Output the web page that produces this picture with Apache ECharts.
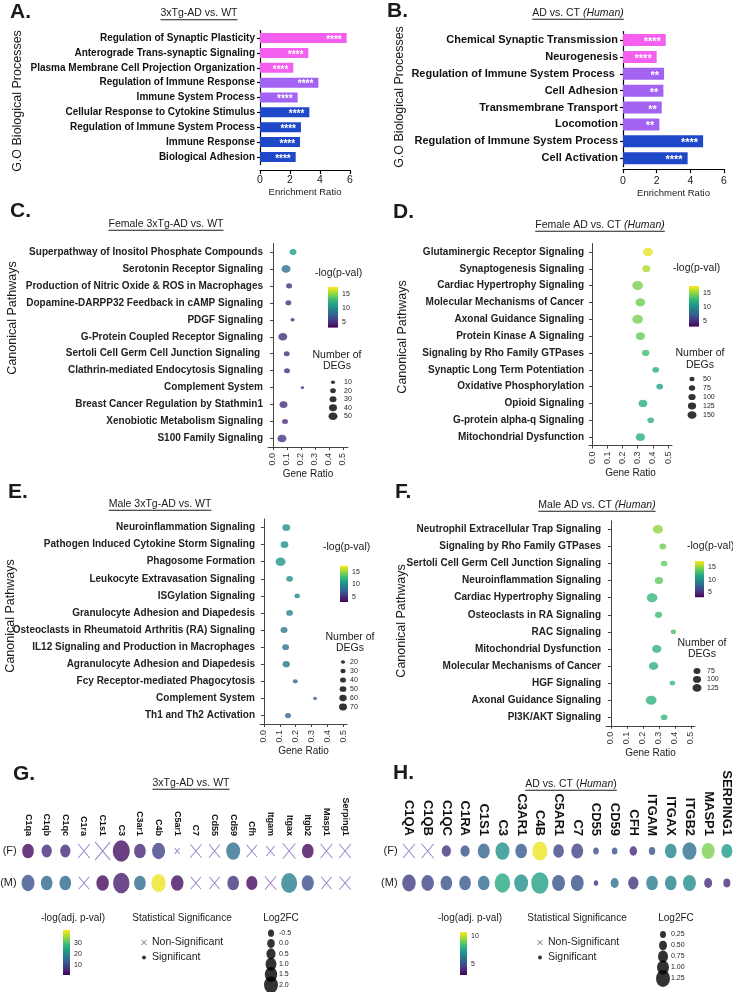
<!DOCTYPE html>
<html><head><meta charset="utf-8">
<script src="https://cdn.jsdelivr.net/npm/echarts@6/dist/echarts.min.js"></script>
<style>html,body{margin:0;padding:0;background:#fff}#c{width:733px;height:992px}</style>
</head><body><div id="c"></div>
<script>
// ================= DATA =================
const catA = ['Regulation of Synaptic Plasticity','Anterograde Trans-synaptic Signaling','Plasma Membrane Cell Projection Organization','Regulation of Immune Response','Immune System Process','Cellular Response to Cytokine Stimulus','Regulation of Immune System Process','Immune Response','Biological Adhesion'];
const ratioA = [5.78, 3.22, 2.22, 3.89, 2.51, 3.29, 2.73, 2.67, 2.38];
const starsA = ['****','****','****','****','****','****','****','****','****'];
const groupA = [0,0,0,1,1,2,2,2,2];

const catB = ['Chemical Synaptic Transmission','Neurogenesis','Regulation of Immune System Process ','Cell Adhesion','Transmembrane Transport','Locomotion','Regulation of Immune System Process','Cell Activation'];
const ratioB = [2.54, 2.0, 2.44, 2.4, 2.3, 2.16, 4.76, 3.84];
const starsB = ['****','****','**','**','**','**','****','****'];
const groupB = [0,0,1,1,1,1,2,2];

const catC = ['Superpathway of Inositol Phosphate Compounds','Serotonin Receptor Signaling','Production of Nitric Oxide & ROS in Macrophages','Dopamine-DARPP32 Feedback in cAMP Signaling','PDGF Signaling','G-Protein Coupled Receptor Signaling','Sertoli Cell Germ Cell Junction Signaling ','Clathrin-mediated Endocytosis Signaling','Complement System','Breast Cancer Regulation by Stathmin1','Xenobiotic Metabolism Signaling','S100 Family Signaling'];
const ratioC = [0.143, 0.093, 0.115, 0.11, 0.14, 0.07, 0.098, 0.1, 0.21, 0.075, 0.086, 0.064];
const pvalC = [11, 8.5, 5, 5, 4.8, 5, 5, 4.8, 4.5, 5, 4.8, 5.2];
const degsC = [30, 50, 22, 22, 11, 50, 22, 22, 7, 40, 22, 50];
const legendC = [10, 20, 30, 40, 50];

const catD = ['Glutaminergic Receptor Signaling','Synaptogenesis Signaling','Cardiac Hypertrophy Signaling','Molecular Mechanisms of Cancer','Axonal Guidance Signaling','Protein Kinase A Signaling','Signaling by Rho Family GTPases','Synaptic Long Term Potentiation','Oxidative Phosphorylation','Opioid Signaling','G-protein alpha-q Signaling','Mitochondrial Dysfunction'];
const ratioD = [0.368, 0.357, 0.30, 0.318, 0.30, 0.318, 0.353, 0.419, 0.445, 0.335, 0.386, 0.318];
const pvalD = [17, 15.7, 14.5, 14.3, 14.5, 14, 13, 11.8, 11.3, 12, 12.2, 12];
const degsD = [185, 118, 212, 174, 212, 160, 99, 83, 83, 140, 83, 160];
const legendD = [50, 75, 100, 125, 150];

const catE = ['Neuroinflammation Signaling','Pathogen Induced Cytokine Storm Signaling','Phagosome Formation','Leukocyte Extravasation Signaling','ISGylation Signaling','Granulocyte Adhesion and Diapedesis','Osteoclasts in Rheumatoid Arthritis (RA) Signaling','IL12 Signaling and Production in Macrophages','Agranulocyte Adhesion and Diapedesis','Fcy Receptor-mediated Phagocytosis','Complement System','Th1 and Th2 Activation'];
const ratioE = [0.141, 0.13, 0.105, 0.162, 0.21, 0.162, 0.127, 0.137, 0.141, 0.198, 0.323, 0.152];
const pvalE = [10.3, 10.5, 10.6, 10.3, 9.8, 9.5, 8.8, 8.3, 8.4, 7.8, 7, 7.5];
const degsE = [70, 65, 109, 49, 31, 49, 54, 49, 59, 27, 17, 39];
const legendE = [20, 30, 40, 50, 60, 70];

const catF = ['Neutrophil Extracellular Trap Signaling','Signaling by Rho Family GTPases','Sertoli Cell Germ Cell Junction Signaling','Neuroinflammation Signaling','Cardiac Hypertrophy Signaling','Osteoclasts in RA Signaling','RAC Signaling','Mitochondrial Dysfunction','Molecular Mechanisms of Cancer','HGF Signaling','Axonal Guidance Signaling','PI3K/AKT Signaling'];
const ratioF = [0.293, 0.324, 0.332, 0.30, 0.257, 0.297, 0.39, 0.286, 0.266, 0.384, 0.251, 0.332];
const pvalF = [15, 14.2, 14, 13.8, 12.7, 13, 13.3, 12.4, 12.2, 12.6, 12.2, 12.6];
const degsF = [154, 69, 69, 107, 176, 83, 44, 134, 134, 50, 176, 69];
const legendF = [75, 100, 125];

const ratioTicks = [0, 0.1, 0.2, 0.3, 0.4, 0.5];
const pvalTicks = [5, 10, 15];
const rowsGH = ['(F)', '(M)'];

const genesG = ['C1qa','C1qb','C1qc','C1ra','C1s1','C3','C3ar1','C4b','C5ar1','C7','Cd55','Cd59','Cfh','Itgam','Itgax','Itgb2','Masp1','Serping1'];
const gF_lfc = [1.28, 0.84, 0.84, 1.28, 2.31, 2.94, 1.28, 1.69, -0.9, 1.06, 1.06, 2.0, 0.84, 0.25, 1.56, 1.28, 1.28, 1.28];
const gF_p   = [2.2, 6, 6, 0.5, 0.5, 2.6, 5.5, 9.2, 0.5, 0.5, 0.5, 16, 0.5, 0.5, 0.5, 2.2, 0.5, 0.5];
const gF_sig = [1,1,1,0,0,1,1,1,0,0,0,1,0,0,0,1,0,0];
const gM_lfc = [1.69, 1.28, 1.28, 0.84, 1.56, 2.75, 1.28, 2.16, 1.56, 0.84, 0.84, 1.28, 1.13, 1.13, 2.63, 1.44, 0.84, 1.13];
const gM_p   = [11.3, 14.7, 14.7, 0.5, 2.2, 4.3, 15.4, 41.2, 2.6, 0.5, 0.5, 7.2, 2.0, 0.5, 18.6, 11.3, 0.5, 0.5];
const gM_sig = [1,1,1,0,1,1,1,1,1,0,0,1,1,0,1,1,0,0];
const lfcLegendG = [-0.5, 0.0, 0.5, 1.0, 1.5, 2.0];
const lfcLegendGLabels = ['-0.5','0.0','0.5','1.0','1.5','2.0'];
const pTicksG = [10, 20, 30];

const genesH = ['C1QA','C1QB','C1QC','C1RA','C1S1','C3','C3AR1','C4B','C5AR1','C7','CD55','CD59','CFH','ITGAM','ITGAX','ITGB2','MASP1','SERPING1'];
const hF_lfc = [1.0, 1.0, 0.66, 0.66, 1.0, 1.25, 0.96, 1.38, 0.84, 1.0, 0.2, 0.2, 0.44, 0.31, 0.96, 1.25, 1.12, 0.88];
const hF_p   = [3, 3, 4.1, 4.9, 5.4, 6.85, 5.1, 10.6, 4.5, 4.5, 4.9, 4.9, 3.85, 4.9, 6.5, 5.8, 9.2, 7.2];
const hF_sig = [0,0,1,1,1,1,1,1,1,1,1,1,1,1,1,1,1,1];
const hM_lfc = [1.19, 1.08, 0.96, 0.96, 0.96, 1.43, 1.25, 1.66, 1.12, 1.12, 0.05, 0.5, 0.79, 0.96, 0.96, 1.12, 0.5, 0.38];
const hM_p   = [4.4, 4.5, 4.9, 5.1, 5.7, 7.6, 6.85, 7.4, 4.9, 4.9, 3.8, 5.8, 4.1, 6.2, 6.4, 6.8, 3.9, 3.9];
const hM_sig = [1,1,1,1,1,1,1,1,1,1,1,1,1,1,1,1,1,1];
const lfcLegendH = [0.25, 0.5, 0.75, 1.0, 1.25];
const lfcLegendHLabels = ['0.25','0.50','0.75','1.00','1.25'];
const pTicksH = [5, 10];
const sigLabels = ['Non-Significant', 'Significant'];

// ================= STYLE / HELPERS =================
const SANS = '"Liberation Sans", Arial, Helvetica, sans-serif';
const VIRIDIS = ['#440154','#482878','#3e4989','#31688e','#26828e','#1f9e89','#35b779','#6ece58','#b5de2b','#fde725'];
const BAR_COLORS = ['#f55ff0', '#a262f2', '#1f48c9'];
const XPATH = 'path://M0,0L10,10M10,0L0,10';
const TXT = '#1a1a1a';

const chart = echarts.init(document.getElementById('c'), null, {renderer: 'canvas', width: 733, height: 992});
const grid = [], xAxis = [], yAxis = [], series = [], graphic = [];

function addGrid(g, x, y) {
  grid.push(Object.assign({containLabel: false, outerBoundsMode: 'none'}, g));
  const i = grid.length - 1;
  xAxis.push(Object.assign({gridIndex: i}, x));
  yAxis.push(Object.assign({gridIndex: i}, y));
  return i;
}
const mctx = document.createElement('canvas').getContext('2d');
function tw(text, font) { mctx.font = font; return mctx.measureText(text).width; }

function addText(text, x, y, o) {
  o = o || {};
  graphic.push({type: 'text', x: x, y: y, rotation: o.rot || 0, silent: true,
    style: {text: text, fontSize: o.size || 11, fontFamily: SANS, fontWeight: o.weight || 'normal',
      fontStyle: o.style || 'normal', fill: o.color || TXT, align: o.align || 'left', verticalAlign: 'middle'}});
}
function addTitle(cx, cy, parts, size) {
  const fonts = parts.map(p => (p[1] ? 'italic ' : '') + size + 'px ' + SANS);
  const widths = parts.map((p, i) => tw(p[0], fonts[i]));
  const total = widths.reduce((a, b) => a + b, 0);
  let x = cx - total / 2;
  parts.forEach((p, i) => {
    addText(p[0], x, cy, {size: size, style: p[1] ? 'italic' : 'normal'});
    x += widths[i];
  });
  graphic.push({type: 'rect', x: cx - total / 2, y: cy + size * 0.55, silent: true,
    shape: {x: 0, y: 0, width: total, height: 0.9}, style: {fill: TXT}});
}

function barPanel(g, cats, vals, stars, groups, barW, labelSize, starSize, xOffset, labelMargin, nameGap) {
  const gi = addGrid(g,
    {type: 'value', min: 0, max: 6, interval: 2, offset: xOffset,
      axisLine: {show: true, onZero: false, lineStyle: {color: '#000', width: 1.2}},
      axisTick: {show: true, length: 4, lineStyle: {color: '#000', width: 1.2}},
      axisLabel: {fontSize: 10.5, color: TXT, margin: labelMargin, fontFamily: SANS},
      splitLine: {show: false},
      name: 'Enrichment Ratio', nameLocation: 'middle', nameGap: nameGap,
      nameTextStyle: {fontSize: 9.5, color: TXT, fontFamily: SANS}},
    {type: 'category', inverse: true, data: cats,
      axisLine: {show: true, lineStyle: {color: '#000', width: 1.2}},
      axisTick: {show: true, length: 3, alignWithLabel: true, lineStyle: {color: '#000', width: 1.2}},
      axisLabel: {fontSize: labelSize, fontWeight: 'bold', color: '#111', margin: 5, fontFamily: SANS, interval: 0}});
  series.push({type: 'bar', xAxisIndex: gi, yAxisIndex: gi, barWidth: barW, silent: true,
    data: vals,
    itemStyle: {color: p => BAR_COLORS[groups[p.dataIndex]]},
    label: {show: true, position: 'insideRight', distance: 5, color: '#fff', fontWeight: 'bold',
      fontSize: starSize, fontFamily: SANS, offset: [0, 2], formatter: p => stars[p.dataIndex]}});
}

function sizeFnFactory(k) { return n => k * Math.sqrt(n); }
const scatterSeriesIdx = [];
function dotPanel(g, cats, ratios, pvals, degs, sizeFn, xmin, xmax, nameGap) {
  const gi = addGrid(g,
    {type: 'value', min: xmin, max: xmax,
      axisLine: {show: true, onZero: false, lineStyle: {color: '#444', width: 1}},
      axisTick: {show: true, length: 3, customValues: ratioTicks, lineStyle: {color: '#444'}},
      axisLabel: {customValues: ratioTicks, rotate: 90, fontSize: 9, color: '#333', margin: 6, fontFamily: SANS,
        formatter: v => Number(v).toFixed(1)},
      splitLine: {show: false},
      name: 'Gene Ratio', nameLocation: 'middle', nameGap: nameGap,
      nameTextStyle: {fontSize: 10, color: TXT, fontFamily: SANS}},
    {type: 'category', inverse: true, data: cats,
      axisLine: {show: true, lineStyle: {color: '#444', width: 1}},
      axisTick: {show: true, length: 3, alignWithLabel: true, lineStyle: {color: '#444'}},
      axisLabel: {fontSize: 10, fontWeight: 'bold', color: '#222', margin: 5, fontFamily: SANS, interval: 0}});
  series.push({type: 'scatter', xAxisIndex: gi, yAxisIndex: gi, silent: true,
    data: cats.map((c, i) => [ratios[i], i, pvals[i], degs[i]]),
    symbolSize: v => { const w = sizeFn(v[3]); return [w, w * 0.85]; }});
  scatterSeriesIdx.push(series.length - 1);
}

function colorbar(g, min, max, ticks, labelSize) {
  const gi = addGrid(g,
    {type: 'value', min: 0, max: 1, show: false},
    {type: 'value', min: min, max: max, position: 'right',
      axisLine: {show: false}, axisTick: {show: false}, splitLine: {show: false},
      axisLabel: {customValues: ticks, fontSize: labelSize, color: '#222', margin: 4, fontFamily: SANS}});
  const stops = VIRIDIS.map((c, i) => ({offset: i / (VIRIDIS.length - 1), color: c}));
  series.push({type: 'custom', xAxisIndex: gi, yAxisIndex: gi, silent: true, data: [[0, min]],
    renderItem: (params, api) => {
      const a = api.coord([0, max]), b = api.coord([0, min]);
      const cs = params.coordSys;
      return {type: 'rect', shape: {x: cs.x, y: a[1], width: cs.width, height: b[1] - a[1]},
        style: {fill: new echarts.graphic.LinearGradient(0, 1, 0, 0, stops)}};
    }});
}

function sizeLegend(g, vals, labels, sizeFn, ratio, labelSize, margin) {
  const gi = addGrid(g,
    {type: 'category', data: [''], show: false},
    {type: 'category', data: labels, inverse: true, position: 'right',
      axisLine: {show: false}, axisTick: {show: false}, splitLine: {show: false},
      axisLabel: {fontSize: labelSize, color: '#222', margin: margin, interval: 0, fontFamily: SANS}});
  series.push({type: 'scatter', xAxisIndex: gi, yAxisIndex: gi, silent: true,
    data: vals.map((v, i) => [0, i, v]),
    symbolSize: v => { const w = sizeFn(v[2]); return [w, w * ratio]; },
    itemStyle: {color: '#000'}});
}

function sigLegend(g) {
  const gi = addGrid(g,
    {type: 'category', data: [''], show: false},
    {type: 'category', data: sigLabels, inverse: true, position: 'right',
      axisLine: {show: false}, axisTick: {show: false}, splitLine: {show: false},
      axisLabel: {fontSize: 10.5, color: '#222', margin: 4, interval: 0, fontFamily: SANS}});
  series.push({type: 'scatter', xAxisIndex: gi, yAxisIndex: gi, silent: true,
    data: [{value: [0, 0], symbol: XPATH, symbolSize: [5, 5], itemStyle: {color: 'none', borderColor: '#222', borderWidth: 0.8}},
           {value: [0, 1], symbol: 'circle', symbolSize: 4, itemStyle: {color: '#000'}}]});
}

const sigSeriesIdx = [];
function genePanel(g, genes, fL, fP, fS, mL, mP, mS, sizeFn, labelSize) {
  const gi = addGrid(g,
    {type: 'category', data: genes, position: 'top',
      axisLine: {show: false}, axisTick: {show: false}, splitLine: {show: false},
      axisLabel: {rotate: 90, interval: 0, fontSize: labelSize, fontWeight: 'bold', fontFamily: SANS, color: '#111', margin: -1}},
    {type: 'category', data: rowsGH, inverse: true,
      axisLine: {show: false}, axisTick: {show: false}, splitLine: {show: false},
      axisLabel: {fontSize: 11, color: '#222', margin: 2, fontFamily: SANS}});
  const sig = [], ns = [];
  genes.forEach((gn, i) => {
    (fS[i] ? sig : ns).push([i, 0, fP[i], fL[i]]);
    (mS[i] ? sig : ns).push([i, 1, mP[i], mL[i]]);
  });
  series.push({type: 'scatter', xAxisIndex: gi, yAxisIndex: gi, silent: true, data: sig,
    symbolSize: v => { const w = sizeFn(v[3]); return [w, w * 1.25]; }});
  sigSeriesIdx.push(series.length - 1);
  series.push({type: 'scatter', xAxisIndex: gi, yAxisIndex: gi, silent: true, data: ns, symbol: XPATH,
    symbolSize: v => { const w = sizeFn(v[3]); return [w, w * 1.2]; },
    itemStyle: {color: 'none', borderColor: '#8a6cc4', borderWidth: 1}});
}

// ================= PANELS =================
barPanel({left: 260, top: 30.6, width: 90, height: 133.8}, catA, ratioA, starsA, groupA, 10, 10, 10, 5.6, 5, 15);
barPanel({left: 623, top: 31.6, width: 101, height: 135}, catB, ratioB, starsB, groupB, 12, 11, 11, 2.5, 7, 17);

const szC = sizeFnFactory(1.27), szD = sizeFnFactory(0.735), szE = sizeFnFactory(0.956), szF = sizeFnFactory(0.805);
dotPanel({left: 268, top: 243.5, width: 80, height: 203.5}, catC, ratioC, pvalC, degsC, szC, -0.0357, 0.536, 22);
dotPanel({left: 589, top: 243.5, width: 83, height: 202}, catD, ratioD, pvalD, degsD, szD, -0.02, 0.526, 23);
dotPanel({left: 260, top: 519, width: 87, height: 205}, catE, ratioE, pvalE, degsE, szE, -0.025, 0.525, 21);
dotPanel({left: 606, top: 520.8, width: 89, height: 205}, catF, ratioF, pvalF, degsF, szF, -0.031, 0.525, 21);

colorbar({left: 328, top: 287, width: 10, height: 40.6}, 3, 17.5, pvalTicks, 7);
colorbar({left: 689, top: 286, width: 10, height: 40.6}, 3, 17.5, pvalTicks, 7);
colorbar({left: 340, top: 565.75, width: 8, height: 36.25}, 3, 17.5, pvalTicks, 7);
colorbar({left: 695, top: 561, width: 9, height: 36.25}, 3, 17.5, pvalTicks, 7);

sizeLegend({left: 329, top: 378, width: 8, height: 42.5}, legendC, legendC.map(String), szC, 0.85, 7, 7);
sizeLegend({left: 688, top: 374.5, width: 8, height: 45}, legendD, legendD.map(String), szD, 0.85, 7, 7);
sizeLegend({left: 339, top: 657.5, width: 8, height: 54}, legendE, legendE.map(String), szE, 0.85, 7, 3);
sizeLegend({left: 692, top: 666.7, width: 10, height: 25.5}, legendF, legendF.map(String), szF, 0.85, 7, 5);

const szG = l => 6 + 3.2 * (l + 0.5);
const szH = l => 4 + 8 * l;
genePanel({left: 18.7, top: 835, width: 335.7, height: 64}, genesG, gF_lfc, gF_p, gF_sig, gM_lfc, gM_p, gM_sig, szG, 9);
genePanel({left: 399.6, top: 835, width: 336.6, height: 64}, genesH, hF_lfc, hF_p, hF_sig, hM_lfc, hM_p, hM_sig, szH, 13);

colorbar({left: 63, top: 930, width: 7, height: 45}, 1, 42, pTicksG, 7);
colorbar({left: 460, top: 932, width: 7, height: 43}, 2.9, 10.8, pTicksH, 7);
sizeLegend({left: 267, top: 928, width: 8, height: 62}, lfcLegendG, lfcLegendGLabels, szG, 1.2, 7, 4);
sizeLegend({left: 659, top: 929, width: 8, height: 55}, lfcLegendH, lfcLegendHLabels, szH, 1.2, 7, 4);
sigLegend({left: 140, top: 935, width: 8, height: 30});
sigLegend({left: 536, top: 935, width: 8, height: 30});

// ================= TEXT =================
[['A.', 10, 12.5], ['B.', 387, 11], ['C.', 10, 211], ['D.', 393, 212.5], ['E.', 8, 492], ['F.', 395, 492], ['G.', 13, 774], ['H.', 393, 773]]
  .forEach(t => addText(t[0], t[1], t[2], {size: 21, weight: 'bold'}));

addTitle(199, 13.5, [['3xTg-AD vs. WT', 0]], 10.5);
addTitle(578, 13, [['AD vs. CT ', 0], ['(Human)', 1]], 10.5);
addTitle(166, 224, [['Female 3xTg-AD vs. WT', 0]], 10.5);
addTitle(600, 225, [['Female AD vs. CT ', 0], ['(Human)', 1]], 10.5);
addTitle(160, 504, [['Male 3xTg-AD vs. WT', 0]], 10.5);
addTitle(597, 505, [['Male AD vs. CT ', 0], ['(Human)', 1]], 10.5);
addTitle(191, 783, [['3xTg-AD vs. WT', 0]], 10.5);
addTitle(571, 784, [['AD vs. CT (', 0], ['Human', 1], [')', 0]], 10.5);

addText('G.O Biological Processes', 18, 101, {size: 12.5, rot: Math.PI / 2, align: 'center'});
addText('G.O Biological Processes', 400, 97, {size: 12.5, rot: Math.PI / 2, align: 'center'});
addText('Canonical Pathways', 12.5, 318, {size: 12.5, rot: Math.PI / 2, align: 'center'});
addText('Canonical Pathways', 403, 337, {size: 12.5, rot: Math.PI / 2, align: 'center'});
addText('Canonical Pathways', 11, 616, {size: 12.5, rot: Math.PI / 2, align: 'center'});
addText('Canonical Pathways', 402, 621, {size: 12.5, rot: Math.PI / 2, align: 'center'});

addText('-log(p-val)', 315, 273, {size: 10.5});
addText('Number of', 337, 355, {size: 10.5, align: 'center'});
addText('DEGs', 337, 366, {size: 10.5, align: 'center'});
addText('-log(p-val)', 673, 268, {size: 10.5});
addText('Number of', 700, 353, {size: 10.5, align: 'center'});
addText('DEGs', 700, 365, {size: 10.5, align: 'center'});
addText('-log(p-val)', 323, 547, {size: 10.5});
addText('Number of', 350, 637, {size: 10.5, align: 'center'});
addText('DEGs', 350, 648, {size: 10.5, align: 'center'});
addText('-log(p-val)', 687, 546, {size: 10.5});
addText('Number of', 702, 643, {size: 10.5, align: 'center'});
addText('DEGs', 702, 654, {size: 10.5, align: 'center'});

addText('-log(adj. p-val)', 73, 918, {size: 10, align: 'center'});
addText('Statistical Significance', 182, 918, {size: 10, align: 'center'});
addText('Log2FC', 281, 918, {size: 10, align: 'center'});
addText('-log(adj. p-val)', 470, 918, {size: 10, align: 'center'});
addText('Statistical Significance', 577, 918, {size: 10, align: 'center'});
addText('Log2FC', 676, 918, {size: 10, align: 'center'});

chart.setOption({
  animation: false,
  backgroundColor: '#fff',
  grid: grid, xAxis: xAxis, yAxis: yAxis, series: series, graphic: graphic,
  visualMap: [
    {type: 'continuous', show: false, min: 3, max: 17.5, dimension: 2, seriesIndex: scatterSeriesIdx, inRange: {color: VIRIDIS}},
    {type: 'continuous', show: false, min: 1, max: 42, dimension: 2, seriesIndex: [sigSeriesIdx[0]], inRange: {color: VIRIDIS}},
    {type: 'continuous', show: false, min: 2.9, max: 10.8, dimension: 2, seriesIndex: [sigSeriesIdx[1]], inRange: {color: VIRIDIS}}
  ]
});
</script></body></html>
